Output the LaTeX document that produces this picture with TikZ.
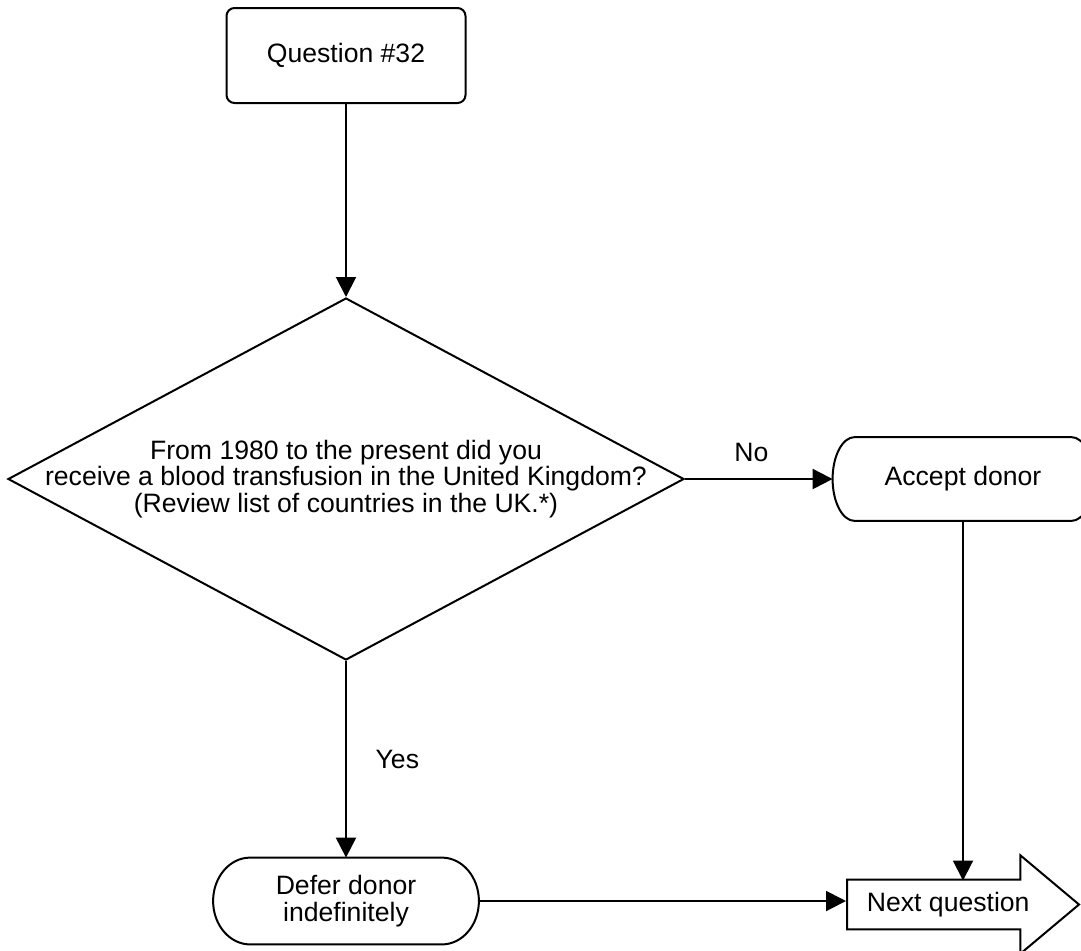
\documentclass[tikz,border=0pt]{standalone}
\usepackage{fontspec}
\setmainfont{Liberation Sans}
\usetikzlibrary{shapes,arrows.meta,positioning,calc}
\tikzset{
  >={Triangle[length=10pt,width=10pt]},
  every node/.style={font=\fontsize{13.3}{13.3}\selectfont},
  qbox/.style={draw,rounded corners=4pt,align=center,minimum width=119.5pt,minimum height=47.5pt,line width=1pt},
  dec/.style={draw,diamond,aspect=1.87,minimum width=338pt,minimum height=181pt,inner sep=0pt,line width=1pt},
  term/.style={align=center,append after command={\pgfextra{\draw[line width=1pt]
    ([xshift=#1]\tikzlastnode.north west)--([xshift=-#1]\tikzlastnode.north east)
    ..controls([xshift={-0.448*#1}]\tikzlastnode.north east)and($(\tikzlastnode.east)!0.552!(\tikzlastnode.north east)$)..(\tikzlastnode.east)
    ..controls($(\tikzlastnode.east)!0.552!(\tikzlastnode.south east)$)and([xshift={-0.448*#1}]\tikzlastnode.south east)..([xshift=-#1]\tikzlastnode.south east)
    --([xshift=#1]\tikzlastnode.south west)
    ..controls([xshift={0.448*#1}]\tikzlastnode.south west)and($(\tikzlastnode.west)!0.552!(\tikzlastnode.south west)$)..(\tikzlastnode.west)
    ..controls($(\tikzlastnode.west)!0.552!(\tikzlastnode.north west)$)and([xshift={0.448*#1}]\tikzlastnode.north west)..cycle;}}},
  nextq/.style={draw,single arrow,single arrow tip angle=80,single arrow head extend=12.25pt,minimum width=48.5pt,minimum height=116pt,inner ysep=5.7pt,line width=1pt},
  flow/.style={->,line width=1pt}
}
\begin{document}
\begin{tikzpicture}[x=0.5pt,y=-0.5pt]
\clip(0,0)rectangle(1081,950);
\node[qbox](q32)at(346,55.5){Question \#32};
\node[dec,label={[align=center]center:{From 1980 to the present did you\\receive a blood transfusion in the United Kingdom?\\(Review list of countries in the UK.*)}}](dec)at(346,479){};
\node[term=11pt,minimum width=130pt,minimum height=41.5pt](acc)at(963,479){Accept donor};
\node[term=18.5pt,minimum width=132.5pt,minimum height=43pt](defer)at(346,901){Defer donor\\indefinitely};
\node[nextq,anchor=tail](nxt)at(846,904.5){Next question};
\coordinate(nxtin)at(963,880.5);
\draw[flow](q32)--(dec);
\draw[flow](dec)--node[above=5pt,pos=0.45]{No}(acc);
\draw[flow](dec)--node[right=11pt]{Yes}(defer);
\draw[flow](acc)--(nxtin);
\draw[flow](defer)--(defer-|nxt.tail);
\end{tikzpicture}
\end{document}
